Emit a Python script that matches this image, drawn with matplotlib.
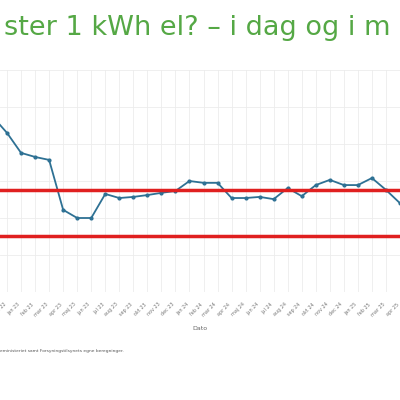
import matplotlib.pyplot as plt

months = ['nov 22', 'dec 22', 'jan 23', 'feb 23', 'mar 23', 'apr 23', 'maj 23', 'jun 23',
          'jul 23', 'aug 23', 'sep 23', 'okt 23', 'nov 23', 'dec 23', 'jan 24', 'feb 24',
          'mar 24', 'apr 24', 'maj 24', 'jun 24', 'jul 24', 'aug 24', 'sep 24', 'okt 24',
          'nov 24', 'dec 24', 'jan 25', 'feb 25', 'mar 25', 'apr 25']
price = [4.73, 4.30, 3.76, 3.65, 3.57, 2.22, 2.00, 2.00, 2.65, 2.54, 2.57, 2.62, 2.68, 2.73,
         3.00, 2.95, 2.95, 2.54, 2.54, 2.57, 2.51, 2.81, 2.59, 2.89, 3.03, 2.89, 2.89, 3.08,
         2.76, 2.40]
ref_lines = [2.76, 1.51]

idx = list(range(-1, len(months) - 1))

fig = plt.figure(figsize=(4, 4), dpi=100)
ax = fig.add_axes([0, 0.27, 1, 0.555])
ax.plot(idx, price, color='#2e7194', lw=1.3, marker='o', ms=2)
for r in ref_lines:
    ax.axhline(r, color='#e02020', lw=2.5)
ax.set_xlim(-0.5, 27.9)
ax.set_ylim(0, 6)
ax.set_yticks(range(7))
ax.set_yticklabels([])
ax.tick_params(left=False, bottom=False)
ax.set_xticks(idx[1:])
ax.set_xticklabels(months[1:], rotation=45, ha='right', fontsize=3.5, color='#777777')
ax.grid(True, color='#ececec', lw=0.6)
for s in ax.spines.values():
    s.set_visible(False)
ax.set_xlabel('Dato', fontsize=4.5, color='#666666', labelpad=6)

fig.text(0.01, 0.93, 'ster 1 kWh el? \u2013 i dag og i m', fontsize=19.5, color='#55a845', va='center')
fig.text(0.0, 0.12, 'eministeriet samt Forsyningstilsynets egne beregninger.', fontsize=3.2, color='#555555')
fig.savefig('out.png')
